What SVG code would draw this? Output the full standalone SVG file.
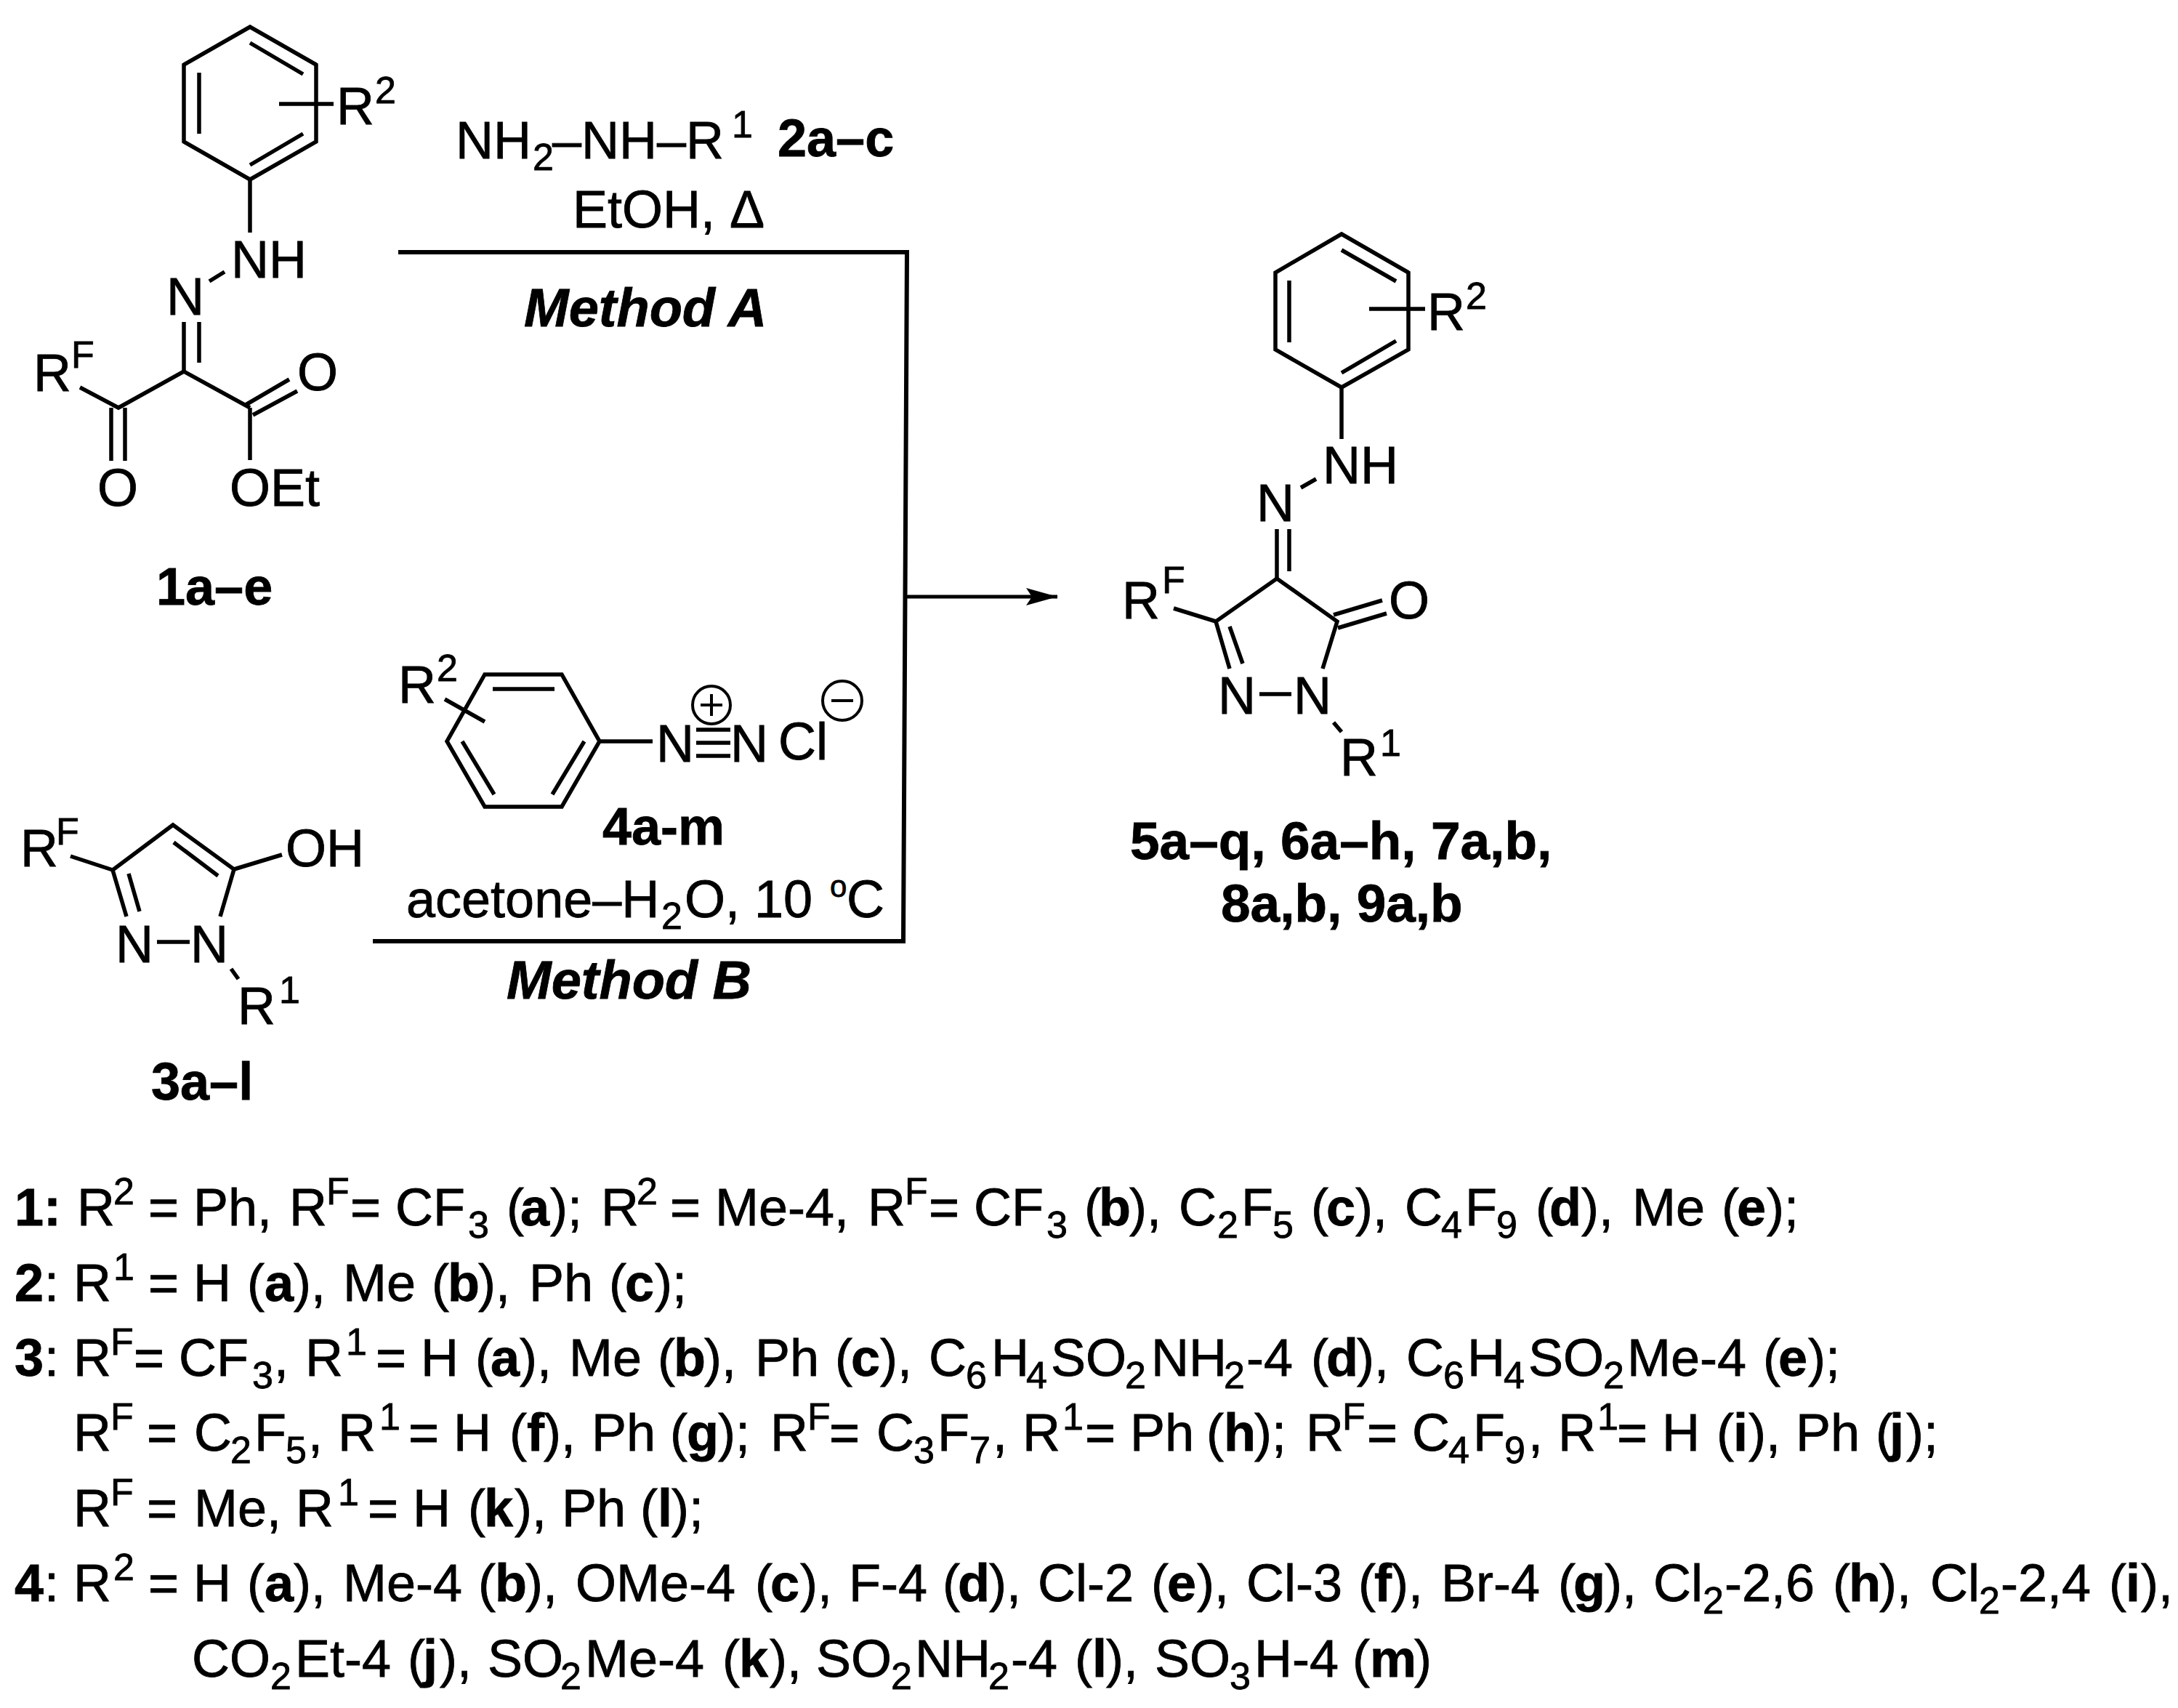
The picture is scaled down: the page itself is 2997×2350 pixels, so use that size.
<svg xmlns="http://www.w3.org/2000/svg" width="2997" height="2350" viewBox="0 0 2997 2350">
<style>
text{font-family:"Liberation Sans",Arial,sans-serif;font-size:72px;fill:#000;stroke:#000;stroke-width:.8}
.b{font-weight:bold}
.l{font-size:73px}
.m{font-weight:bold;font-style:italic;font-size:74px}
.s{font-size:52px}
.o{font-size:42px}
.c line,.c polyline,.c circle{stroke:#000;stroke-width:5.5;fill:none;stroke-linecap:butt;stroke-linejoin:miter}
.c circle,.c .t{stroke-width:4}
#connectors line{stroke:#000;stroke-width:6;fill:none;stroke-linecap:square}
#connectors .a{stroke-width:5;stroke-linecap:butt}
</style>
<defs><marker id="arr" markerUnits="userSpaceOnUse" markerWidth="44" markerHeight="26" refX="43" refY="13" orient="auto"><path d="M0,1L43,13L0,25L8,13z" fill="#000"/></marker></defs>
<rect width="2997" height="2350" fill="#fff"/>
<g id="connectors">
<line x1="551" y1="347" x2="1248" y2="347"/>
<line x1="1248" y1="347" x2="1243" y2="1295"/>
<line x1="516" y1="1295" x2="1243" y2="1295"/>
<line class="a" x1="1247" y1="821" x2="1455" y2="821" marker-end="url(#arr)"/>
</g>
<g id="compound-1" class="c">
<polyline points="344,37 435,89 435,195 344,247 253,195 253,89 344,37 435,89"/>
<line x1="344" y1="59" x2="417" y2="102"/><line x1="274" y1="100" x2="274" y2="184"/><line x1="417" y1="184" x2="344" y2="227"/>
<line x1="384" y1="143" x2="459" y2="143"/>
<line x1="344" y1="247" x2="344" y2="320"/><line x1="288" y1="387" x2="309" y2="374"/>
<line x1="253" y1="443" x2="253" y2="511"/><line x1="274" y1="443" x2="274" y2="499"/>
<polyline points="110,533 163,561 253,511 344,561"/>
<line x1="153" y1="561" x2="153" y2="634"/><line x1="172" y1="561" x2="172" y2="634"/>
<line x1="344" y1="561" x2="344" y2="633"/><line x1="338" y1="557" x2="398" y2="522"/><line x1="348" y1="571" x2="409" y2="538"/>
<text x="463" y="171">R</text><text class="s" x="516" y="142">2</text>
<text x="318" y="382">NH</text><text x="229" y="433">N</text>
<text x="46" y="538">R</text><text class="s" x="98" y="506">F</text>
<text x="134" y="696">O</text><text x="316" y="696">OEt</text><text x="409" y="537">O</text>
<text class="b" x="215" y="832">1a–e</text>
</g>
<g id="reagent-2">
<text x="627" y="218">NH<tspan class="s" x="733" y="234">2</tspan><tspan x="760" y="218">–NH–R</tspan><tspan class="s" x="1007" y="189">1</tspan><tspan class="b" x="1070" y="215">2a–c</tspan></text>
<text x="788" y="313">EtOH, Δ</text>
<text class="m" x="721" y="449">Method A</text>
</g>
<g id="compound-3" class="c">
<polyline points="174,1261 155,1197 238,1135 322,1196 303,1261"/>
<line x1="177" y1="1202" x2="192" y2="1254"/><line x1="239" y1="1159" x2="300" y2="1205"/>
<line x1="216" y1="1296" x2="261" y2="1296"/><line x1="97" y1="1178" x2="155" y2="1197"/><line x1="322" y1="1196" x2="388" y2="1176"/><line x1="318" y1="1333" x2="328" y2="1347"/>
<text x="159" y="1324">N</text><text x="262" y="1324">N</text>
<text x="28" y="1192">R</text><text class="s" x="77" y="1162">F</text>
<text x="393" y="1192">OH</text>
<text x="327" y="1409">R</text><text class="s" x="384" y="1380">1</text>
<text class="b" x="208" y="1513">3a–l</text>
</g>
<g id="reagent-4" class="c">
<polyline points="667,928 773,928 825,1020 773,1110 667,1110 615,1020 667,928 773,928"/>
<line x1="678" y1="948" x2="763" y2="948"/><line x1="636" y1="1020" x2="680" y2="1093"/><line x1="804" y1="1020" x2="760" y2="1093"/>
<line x1="612" y1="962" x2="667" y2="993"/><line x1="825" y1="1020" x2="898" y2="1020"/>
<line x1="958" y1="1004" x2="1005" y2="1004"/><line x1="958" y1="1022" x2="1005" y2="1022"/><line x1="958" y1="1040" x2="1005" y2="1040"/>
<circle cx="979" cy="970" r="26"/><line class="t" x1="964" y1="970" x2="994" y2="970"/><line class="t" x1="979" y1="955" x2="979" y2="985"/>
<circle cx="1159" cy="964" r="27"/><line class="t" x1="1144" y1="964" x2="1174" y2="964"/>
<text x="548" y="967">R</text><text class="s" x="601" y="937">2</text>
<text x="903" y="1048">N</text><text x="1005" y="1048">N</text><text x="1071" y="1045">Cl</text>
<text class="b" x="829" y="1162">4a-m</text>
<text x="559" y="1262">acetone–H<tspan class="s" x="910" y="1278">2</tspan><tspan x="942" y="1262">O, 10</tspan><tspan class="o" x="1142" y="1234">o</tspan><tspan x="1165" y="1262">C</tspan></text>
<text class="m" x="697" y="1374">Method B</text>
</g>
<g id="product-5" class="c">
<polyline points="1846,322 1938,375 1938,481 1846,533 1755,481 1755,375 1846,322 1938,375"/>
<line x1="1846" y1="344" x2="1921" y2="387"/><line x1="1774" y1="386" x2="1774" y2="471"/><line x1="1921" y1="469" x2="1846" y2="513"/>
<line x1="1884" y1="425" x2="1961" y2="425"/>
<line x1="1846" y1="533" x2="1846" y2="604"/><line x1="1790" y1="671" x2="1811" y2="659"/>
<line x1="1757" y1="728" x2="1757" y2="796"/><line x1="1774" y1="728" x2="1774" y2="786"/>
<polyline points="1692,920 1673,855 1757,796 1840,855 1820,920"/>
<line x1="1692" y1="862" x2="1710" y2="913"/><line x1="1615" y1="837" x2="1673" y2="855"/>
<line x1="1835" y1="846" x2="1902" y2="826"/><line x1="1841" y1="864" x2="1908" y2="844"/>
<line x1="1733" y1="955" x2="1777" y2="955"/><line x1="1835" y1="994" x2="1846" y2="1007"/>
<text x="1964" y="454">R</text><text class="s" x="2017" y="425">2</text>
<text x="1820" y="665">NH</text><text x="1729" y="717">N</text>
<text x="1544" y="851">R</text><text class="s" x="1599" y="816">F</text>
<text x="1911" y="851">O</text>
<text x="1676" y="982">N</text><text x="1780" y="982">N</text>
<text x="1844" y="1067">R</text><text class="s" x="1899" y="1040">1</text>
<text class="b l" x="1555" y="1182">5a–q, 6a–h, 7a,b,</text>
<text class="b l" x="1680" y="1268">8a,b, 9a,b</text>
</g>
<g id="legend" transform="translate(-4,0)">
<text y="1686"><tspan class="b" x="24">1:</tspan><tspan x="110">R</tspan><tspan class="s" x="160" y="1657">2</tspan><tspan x="208" y="1686">= Ph,</tspan><tspan x="402">R</tspan><tspan class="s" x="453" y="1657">F</tspan><tspan x="486" y="1686">= CF</tspan><tspan class="s" x="648" y="1703">3</tspan><tspan x="701" y="1686">(</tspan><tspan class="b" x="720">a</tspan><tspan x="761">);</tspan><tspan x="831">R</tspan><tspan class="s" x="880" y="1657">2</tspan><tspan x="926" y="1686">= Me-4,</tspan><tspan x="1198">R</tspan><tspan class="s" x="1249" y="1657">F</tspan><tspan x="1282" y="1686">= CF</tspan><tspan class="s" x="1444" y="1703">3</tspan><tspan x="1496" y="1686">(</tspan><tspan class="b" x="1516">b</tspan><tspan x="1558">),</tspan><tspan x="1626">C</tspan><tspan class="s" x="1679" y="1703">2</tspan><tspan x="1712" y="1686">F</tspan><tspan class="s" x="1755" y="1703">5</tspan><tspan x="1808" y="1686">(</tspan><tspan class="b" x="1829">c</tspan><tspan x="1869">),</tspan><tspan x="1937">C</tspan><tspan class="s" x="1987" y="1703">4</tspan><tspan x="2020" y="1686">F</tspan><tspan class="s" x="2063" y="1703">9</tspan><tspan x="2117" y="1686">(</tspan><tspan class="b" x="2136">d</tspan><tspan x="2180">),</tspan><tspan x="2250">Me</tspan><tspan x="2373">(</tspan><tspan class="b" x="2394">e</tspan><tspan x="2435">);</tspan></text>
<text y="1790"><tspan class="b" x="24">2</tspan><tspan x="65">:</tspan><tspan x="105">R</tspan><tspan class="s" x="160" y="1761">1</tspan><tspan x="208" y="1790">= H</tspan><tspan x="344">(</tspan><tspan class="b" x="368">a</tspan><tspan x="408">),</tspan><tspan x="476">Me</tspan><tspan x="598">(</tspan><tspan class="b" x="620">b</tspan><tspan x="662">),</tspan><tspan x="732">Ph</tspan><tspan x="842">(</tspan><tspan class="b" x="864">c</tspan><tspan x="905">);</tspan></text>
<text y="1893"><tspan class="b" x="24">3</tspan><tspan x="65">:</tspan><tspan x="105">R</tspan><tspan class="s" x="156" y="1864">F</tspan><tspan x="188" y="1893">= CF</tspan><tspan class="s" x="351" y="1910">3</tspan><tspan x="381" y="1893">,</tspan><tspan x="424">R</tspan><tspan class="s" x="480" y="1864">1</tspan><tspan x="521" y="1893">= H</tspan><tspan x="658">(</tspan><tspan class="b" x="679">a</tspan><tspan x="719">),</tspan><tspan x="787">Me</tspan><tspan x="909">(</tspan><tspan class="b" x="931">b</tspan><tspan x="973">),</tspan><tspan x="1043">Ph</tspan><tspan x="1153">(</tspan><tspan class="b" x="1175">c</tspan><tspan x="1215">),</tspan><tspan x="1282">C</tspan><tspan class="s" x="1333" y="1910">6</tspan><tspan x="1368" y="1893">H</tspan><tspan class="s" x="1416" y="1910">4</tspan><tspan x="1450" y="1893">SO</tspan><tspan class="s" x="1552" y="1910">2</tspan><tspan x="1588" y="1893">NH</tspan><tspan class="s" x="1688" y="1910">2</tspan><tspan x="1719" y="1893">-4</tspan><tspan x="1808">(</tspan><tspan class="b" x="1829">d</tspan><tspan x="1871">),</tspan><tspan x="1939">C</tspan><tspan class="s" x="1990" y="1910">6</tspan><tspan x="2023" y="1893">H</tspan><tspan class="s" x="2073" y="1910">4</tspan><tspan x="2107" y="1893">SO</tspan><tspan class="s" x="2210" y="1910">2</tspan><tspan x="2243" y="1893">Me-4</tspan><tspan x="2430">(</tspan><tspan class="b" x="2451">e</tspan><tspan x="2492">);</tspan></text>
<text y="1996"><tspan x="105">R</tspan><tspan class="s" x="156" y="1967">F</tspan><tspan x="206" y="1996">=</tspan><tspan x="271">C</tspan><tspan class="s" x="321" y="2013">2</tspan><tspan x="354" y="1996">F</tspan><tspan class="s" x="397" y="2013">5</tspan><tspan x="428" y="1996">,</tspan><tspan x="469">R</tspan><tspan class="s" x="526" y="1967">1</tspan><tspan x="566" y="1996">= H</tspan><tspan x="705">(</tspan><tspan class="b" x="729">f</tspan><tspan x="752">),</tspan><tspan x="818">Ph</tspan><tspan x="926">(</tspan><tspan class="b" x="949">g</tspan><tspan x="992">);</tspan><tspan x="1064">R</tspan><tspan class="s" x="1115" y="1967">F</tspan><tspan x="1145" y="1996">=</tspan><tspan x="1210">C</tspan><tspan class="s" x="1261" y="2013">3</tspan><tspan x="1294" y="1996">F</tspan><tspan class="s" x="1338" y="2013">7</tspan><tspan x="1370" y="1996">,</tspan><tspan x="1411">R</tspan><tspan class="s" x="1466" y="1967">1</tspan><tspan x="1497" y="1996">= Ph</tspan><tspan x="1664">(</tspan><tspan class="b" x="1688">h</tspan><tspan x="1730">);</tspan><tspan x="1801">R</tspan><tspan class="s" x="1851" y="1967">F</tspan><tspan x="1885" y="1996">=</tspan><tspan x="1947">C</tspan><tspan class="s" x="1997" y="2013">4</tspan><tspan x="2031" y="1996">F</tspan><tspan class="s" x="2074" y="2013">9</tspan><tspan x="2107" y="1996">,</tspan><tspan x="2148">R</tspan><tspan class="s" x="2202" y="1967">1</tspan><tspan x="2229" y="1996">= H</tspan><tspan x="2366">(</tspan><tspan class="b" x="2389">i</tspan><tspan x="2410">),</tspan><tspan x="2475">Ph</tspan><tspan x="2585">(</tspan><tspan class="b" x="2604">j</tspan><tspan x="2627">);</tspan></text>
<text y="2100"><tspan x="105">R</tspan><tspan class="s" x="156" y="2071">F</tspan><tspan x="206" y="2100">=</tspan><tspan x="271">Me,</tspan><tspan x="411">R</tspan><tspan class="s" x="469" y="2071">1</tspan><tspan x="510" y="2100">= H</tspan><tspan x="648">(</tspan><tspan class="b" x="670">k</tspan><tspan x="712">),</tspan><tspan x="777">Ph</tspan><tspan x="885">(</tspan><tspan class="b" x="909">l</tspan><tspan x="928">);</tspan></text>
<text y="2203"><tspan class="b" x="24">4</tspan><tspan x="65">:</tspan><tspan x="105">R</tspan><tspan class="s" x="160" y="2174">2</tspan><tspan x="208" y="2203">= H</tspan><tspan x="344">(</tspan><tspan class="b" x="368">a</tspan><tspan x="408">),</tspan><tspan x="476">Me-4</tspan><tspan x="662">(</tspan><tspan class="b" x="685">b</tspan><tspan x="727">),</tspan><tspan x="796">OMe-4</tspan><tspan x="1043">(</tspan><tspan class="b" x="1064">c</tspan><tspan x="1105">),</tspan><tspan x="1172">F-4</tspan><tspan x="1301">(</tspan><tspan class="b" x="1322">d</tspan><tspan x="1365">),</tspan><tspan x="1432">Cl-2</tspan><tspan x="1588">(</tspan><tspan class="b" x="1610">e</tspan><tspan x="1651">),</tspan><tspan x="1719">Cl-3</tspan><tspan x="1873">(</tspan><tspan class="b" x="1895">f</tspan><tspan x="1918">),</tspan><tspan x="1987">Br-4</tspan><tspan x="2148">(</tspan><tspan class="b" x="2169">g</tspan><tspan x="2212">),</tspan><tspan x="2279">Cl</tspan><tspan class="s" x="2347" y="2220">2</tspan><tspan x="2377" y="2203">-2,6</tspan><tspan x="2526">(</tspan><tspan class="b" x="2548">h</tspan><tspan x="2590">),</tspan><tspan x="2660">Cl</tspan><tspan class="s" x="2727" y="2220">2</tspan><tspan x="2757" y="2203">-2,4</tspan><tspan x="2906">(</tspan><tspan class="b" x="2929">i</tspan><tspan x="2950">),</tspan></text>
<text y="2307"><tspan x="268">CO</tspan><tspan class="s" x="376" y="2324">2</tspan><tspan x="410" y="2307">Et-4</tspan><tspan x="565">(</tspan><tspan class="b" x="586">j</tspan><tspan x="609">),</tspan><tspan x="675">SO</tspan><tspan class="s" x="775" y="2324">2</tspan><tspan x="809" y="2307">Me-4</tspan><tspan x="998">(</tspan><tspan class="b" x="1021">k</tspan><tspan x="1063">),</tspan><tspan x="1127">SO</tspan><tspan class="s" x="1230" y="2324">2</tspan><tspan x="1263" y="2307">NH</tspan><tspan class="s" x="1364" y="2324">2</tspan><tspan x="1395" y="2307">-4</tspan><tspan x="1483">(</tspan><tspan class="b" x="1507">l</tspan><tspan x="1526">),</tspan><tspan x="1593">SO</tspan><tspan class="s" x="1696" y="2324">3</tspan><tspan x="1730" y="2307">H-4</tspan><tspan x="1865">(</tspan><tspan class="b" x="1889">m</tspan><tspan x="1950">)</tspan></text>
</g>
</svg>
